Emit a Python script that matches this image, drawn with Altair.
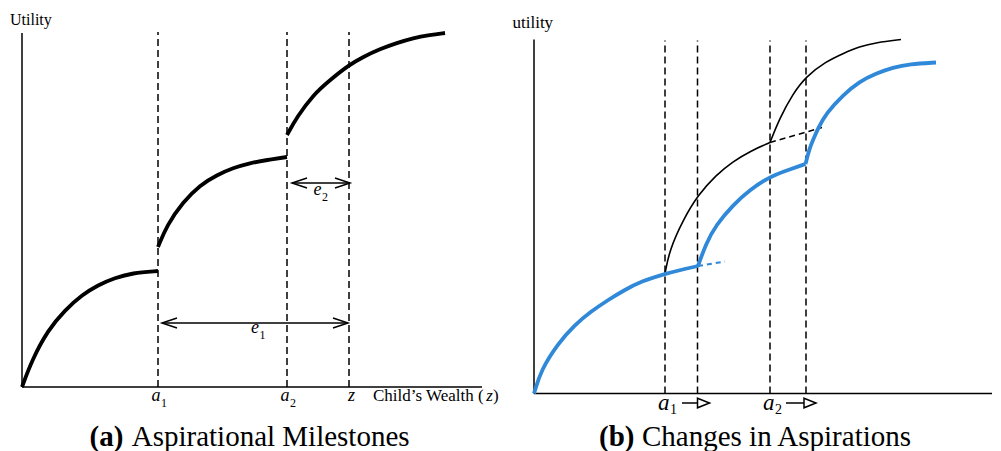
import altair as alt
import pandas as pd

FONT = "Liberation Serif"
BLUE = "#3088d8"

# ---------------- Panel (a): Aspirational Milestones ----------------
A_SEG1_X = [0, 10, 26, 43, 60, 76, 93, 110, 136]
A_SEG1_Y = [0, 27, 57, 77, 92, 102, 109, 114, 116]
A_SEG2_X = [136, 145, 161, 178, 195, 211, 228, 245, 265]
A_SEG2_Y = [140, 162, 185, 202, 212, 219, 224, 227, 230]
A_SEG3_X = [265, 275, 291, 308, 327, 341, 358, 375, 391, 408, 423]
A_SEG3_Y = [252, 270, 292, 307, 322, 330, 338, 344, 349, 352, 354]
A_MILESTONES = [136, 265, 327]          # a1, a2, z
A_DASH_TOP = 355
A_XAXIS_END = 460
A_YAXIS_TOP = 354
A_E_LEFT = [140, 270]
A_E_RIGHT = [326, 328]
A_E_Y = [64, 204]
A_E_LABEL_X = [233, 295.5]
A_E_LABEL_Y = [54, 192]
A_E_SUBS = ["1", "2"]
A_TICK_SUBS = ["1", "2"]

# ---------------- Panel (b): Changes in Aspirations ----------------
B_BLUE1_X = [0, 7, 24, 40.5, 57, 74, 90.5, 107, 131, 164]
B_BLUE1_Y = [0, 23.5, 50, 68.5, 82, 93.5, 103.5, 112, 120, 127.5]
B_BLUE_EXT_X = [164, 191]
B_BLUE_EXT_Y = [127.5, 132]
B_BLUE2_X = [164, 172, 182, 199, 215.5, 236, 255.5, 271.5]
B_BLUE2_Y = [127.5, 150, 168.5, 188.5, 203.5, 217, 224, 229.5]
B_BLUE3_X = [271.5, 275.5, 279, 284, 292, 309, 325.5, 342, 359, 375.5, 402]
B_BLUE3_Y = [229.5, 245, 253.5, 265, 280, 298.5, 312, 320, 326, 329.5, 331]
B_BLACK2_X = [131, 135.5, 149, 164, 182, 199, 215.5, 236]
B_BLACK2_Y = [120, 143.5, 173.5, 198.5, 218.5, 232, 242, 251]
B_BLACK_DASH_X = [236, 288]
B_BLACK_DASH_Y = [251, 266]
B_BLACK3_X = [236, 245.5, 259, 272, 292, 309, 325.5, 342, 367]
B_BLACK3_Y = [251, 275, 300, 317, 332, 340, 347, 351, 354]
B_MILESTONES = [131, 163.5, 236, 272]
B_DASH_TOP = 353
B_XAXIS_END = 458
B_YAXIS_TOP = 354
B_TICK_X = [131, 236]
B_TICK_SUBS = ["1", "2"]
B_ARROW_START = [148, 252]
B_ARROW_TIP = [175.5, 282]
B_ARROW_Y = -9.5

RIGHT_CHEVRON = "M -2 -0.67 L 0 0 L -2 0.67"
LEFT_CHEVRON = "M 2 -0.67 L 0 0 L 2 0.67"
OPEN_TRIANGLE = "M -2 -0.8 L 0 0 L -2 0.8 Z"


def curve_df(segments):
    rows = []
    for name, xs, ys in segments:
        for i, (x, y) in enumerate(zip(xs, ys)):
            rows.append({"seg": name, "i": i, "x": x, "y": y})
    return pd.DataFrame(rows)


def enc(sx, sy):
    return dict(
        x=alt.X("x:Q", scale=sx, axis=None),
        y=alt.Y("y:Q", scale=sy, axis=None),
    )


def text_layer(df, sx, sy, **kw):
    base = dict(font=FONT, baseline="alphabetic", color="black")
    base.update(kw)
    return alt.Chart(df).mark_text(**base).encode(**enc(sx, sy), text="t:N")


# ---------- build panel (a) ----------
xa = alt.Scale(domain=[-14, 481], nice=False, zero=False)
ya = alt.Scale(domain=[-56, 379], nice=False, zero=False)

a_axes = pd.DataFrame({"x": [0, 0], "y": [0, 0], "x2": [A_XAXIS_END, 0], "y2": [0, A_YAXIS_TOP]})
a_dash = pd.DataFrame({"x": A_MILESTONES, "y": [0] * 3, "y2": [A_DASH_TOP] * 3})
a_curves = curve_df([("s1", A_SEG1_X, A_SEG1_Y), ("s2", A_SEG2_X, A_SEG2_Y), ("s3", A_SEG3_X, A_SEG3_Y)])
a_shafts = pd.DataFrame({"x": A_E_LEFT, "x2": A_E_RIGHT, "y": A_E_Y})
a_heads = pd.DataFrame({
    "x": A_E_LEFT + A_E_RIGHT,
    "y": A_E_Y + A_E_Y,
    "shape": [LEFT_CHEVRON] * 2 + [RIGHT_CHEVRON] * 2,
})

a_layers = [
    alt.Chart(a_axes).mark_rule(color="black", strokeWidth=1.5).encode(**enc(xa, ya), x2="x2:Q", y2="y2:Q"),
    alt.Chart(a_dash).mark_rule(color="black", strokeWidth=1.5, strokeDash=[7, 4]).encode(**enc(xa, ya), y2="y2:Q"),
    alt.Chart(a_curves).mark_line(color="black", strokeWidth=3.8, interpolate="basis").encode(
        **enc(xa, ya), detail="seg:N", order="i:Q"),
    alt.Chart(a_shafts).mark_rule(color="black", strokeWidth=1.5).encode(**enc(xa, ya), x2="x2:Q"),
    alt.Chart(a_heads).mark_point(filled=False, size=225, strokeWidth=1.5, color="black", opacity=1).encode(
        **enc(xa, ya), shape=alt.Shape("shape:N", scale=None)),
    text_layer(pd.DataFrame({"x": A_E_LABEL_X, "y": A_E_LABEL_Y, "t": ["e", "e"]}), xa, ya,
               fontSize=18, fontStyle="italic", align="center"),
    text_layer(pd.DataFrame({"x": A_E_LABEL_X, "y": A_E_LABEL_Y, "t": A_E_SUBS}), xa, ya,
               fontSize=12, align="left", dx=4.5, dy=6),
    text_layer(pd.DataFrame({"x": A_MILESTONES[:2], "y": [-13.5] * 2, "t": ["a", "a"]}), xa, ya,
               fontSize=18, fontStyle="italic", align="right", dx=2.5),
    text_layer(pd.DataFrame({"x": A_MILESTONES[:2], "y": [-13.5] * 2, "t": A_TICK_SUBS}), xa, ya,
               fontSize=12, align="left", dx=3, dy=6),
    text_layer(pd.DataFrame({"x": [A_MILESTONES[2]], "y": [-13.5], "t": ["z"]}), xa, ya,
               fontSize=18, fontStyle="italic", align="center", dx=2.5),
    text_layer(pd.DataFrame({"x": [351], "y": [-13.5], "t": ["Child\u2019s Wealth ("]}), xa, ya,
               fontSize=17, align="left"),
    text_layer(pd.DataFrame({"x": [464.3], "y": [-13.5], "t": ["z"]}), xa, ya,
               fontSize=17, fontStyle="italic", align="left"),
    text_layer(pd.DataFrame({"x": [470.9], "y": [-13.5], "t": [")"]}), xa, ya,
               fontSize=17, align="left"),
    text_layer(pd.DataFrame({"x": [-12], "y": [362], "t": ["Utility"]}), xa, ya,
               fontSize=16, align="left"),
    text_layer(pd.DataFrame({"x": [101.3], "y": [-59], "t": ["(a)"]}), xa, ya,
               fontSize=29, fontWeight="bold", align="right"),
    text_layer(pd.DataFrame({"x": [109.7], "y": [-59], "t": ["Aspirational Milestones"]}), xa, ya,
               fontSize=29, align="left"),
]
panel_a = alt.layer(*a_layers).properties(width=495, height=435)

# ---------- build panel (b) ----------
xb = alt.Scale(domain=[-31, 459], nice=False, zero=False)
yb = alt.Scale(domain=[-49.5, 385.5], nice=False, zero=False)

b_axes = pd.DataFrame({"x": [0, 0], "y": [0, 0], "x2": [B_XAXIS_END, 0], "y2": [0, B_YAXIS_TOP]})
b_dash = pd.DataFrame({"x": B_MILESTONES, "y": [0] * 4, "y2": [B_DASH_TOP] * 4})
b_black = curve_df([("k2", B_BLACK2_X, B_BLACK2_Y), ("k3", B_BLACK3_X, B_BLACK3_Y)])
b_black_dash = curve_df([("kd", B_BLACK_DASH_X, B_BLACK_DASH_Y)])
b_blue = curve_df([("b1", B_BLUE1_X, B_BLUE1_Y), ("b2", B_BLUE2_X, B_BLUE2_Y), ("b3", B_BLUE3_X, B_BLUE3_Y)])
b_blue_ext = curve_df([("be", B_BLUE_EXT_X, B_BLUE_EXT_Y)])
b_shafts = pd.DataFrame({"x": B_ARROW_START, "x2": B_ARROW_TIP, "y": [B_ARROW_Y] * 2})
b_heads = pd.DataFrame({"x": B_ARROW_TIP, "y": [B_ARROW_Y] * 2, "shape": [OPEN_TRIANGLE] * 2})

b_layers = [
    alt.Chart(b_axes).mark_rule(color="black", strokeWidth=1.5).encode(**enc(xb, yb), x2="x2:Q", y2="y2:Q"),
    alt.Chart(b_dash).mark_rule(color="black", strokeWidth=1.5, strokeDash=[7, 4]).encode(**enc(xb, yb), y2="y2:Q"),
    alt.Chart(b_black).mark_line(color="black", strokeWidth=1.6, interpolate="basis").encode(
        **enc(xb, yb), detail="seg:N", order="i:Q"),
    alt.Chart(b_black_dash).mark_line(color="black", strokeWidth=1.5, strokeDash=[6, 4]).encode(
        **enc(xb, yb), order="i:Q"),
    alt.Chart(b_blue_ext).mark_line(color=BLUE, strokeWidth=2, strokeDash=[5, 4]).encode(
        **enc(xb, yb), order="i:Q"),
    alt.Chart(b_blue).mark_line(color=BLUE, strokeWidth=3.8, interpolate="basis").encode(
        **enc(xb, yb), detail="seg:N", order="i:Q"),
    alt.Chart(b_shafts).mark_rule(color="black", strokeWidth=1.5).encode(**enc(xb, yb), x2="x2:Q"),
    alt.Chart(b_heads).mark_point(filled=True, fill="white", stroke="black", size=144, strokeWidth=1.5,
                                  opacity=1).encode(**enc(xb, yb), shape=alt.Shape("shape:N", scale=None)),
    text_layer(pd.DataFrame({"x": B_TICK_X, "y": [-16.5] * 2, "t": ["a", "a"]}), xb, yb,
               fontSize=23, fontStyle="italic", align="right", dx=4.5),
    text_layer(pd.DataFrame({"x": B_TICK_X, "y": [-16.5] * 2, "t": B_TICK_SUBS}), xb, yb,
               fontSize=14, align="left", dx=5, dy=4),
    text_layer(pd.DataFrame({"x": [-21.5], "y": [365.5], "t": ["utility"]}), xb, yb,
               fontSize=17, align="left"),
    text_layer(pd.DataFrame({"x": [100.5], "y": [-52.5], "t": ["(b)"]}), xb, yb,
               fontSize=29, fontWeight="bold", align="right"),
    text_layer(pd.DataFrame({"x": [108], "y": [-52.5], "t": ["Changes in Aspirations"]}), xb, yb,
               fontSize=29, align="left"),
]
panel_b = alt.layer(*b_layers).properties(width=490, height=435)

chart = alt.hconcat(panel_a, panel_b, spacing=0, padding=0).configure_view(stroke=None)

chart.save("out.html", embed_options={"renderer": "svg", "actions": False})
